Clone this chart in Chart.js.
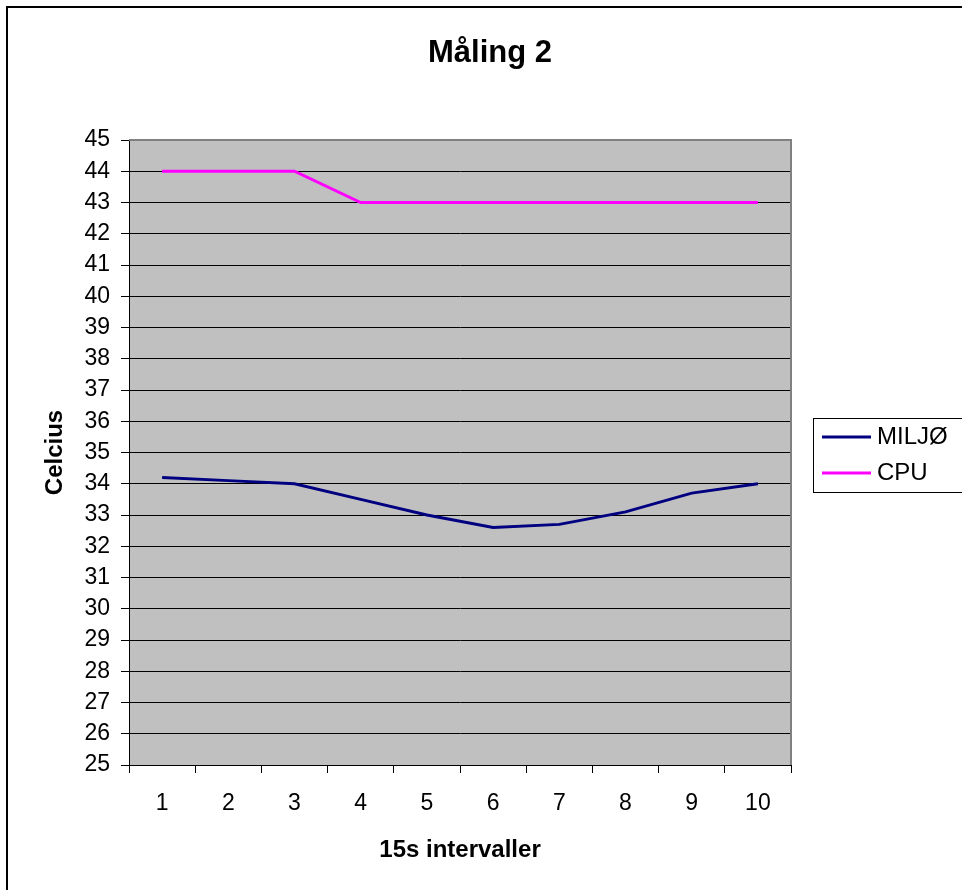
<!DOCTYPE html>
<html>
<head>
<meta charset="utf-8">
<script src="https://cdn.jsdelivr.net/npm/chart.js@4/dist/chart.umd.min.js"></script>
<style>
  body { margin: 0; background: #fff; }
  #wrap { width: 962px; height: 890px; position: relative; }
</style>
</head>
<body>
<div id="wrap"><canvas id="maalingChart"></canvas></div>
<script>
const intervals = ['1', '2', '3', '4', '5', '6', '7', '8', '9', '10'];
const miljoTemps = [34.2, 34.1, 34.0, 33.5, 33.0, 32.6, 32.7, 33.1, 33.7, 34.0];
const cpuTemps = [44, 44, 44, 43, 43, 43, 43, 43, 43, 43];
const seriesNames = ['MILJØ', 'CPU'];
const seriesColors = ['#000080', '#ff00ff'];

const fontFamily = '"Liberation Sans", Arial, sans-serif';

// grey plot area + frame round the whole chart
const plotBackground = {
  id: 'plotBackground',
  beforeDraw(chart) {
    const {ctx, chartArea: a} = chart;
    ctx.save();
    ctx.fillStyle = '#c0c0c0';
    ctx.fillRect(a.left, a.top, a.right - a.left, a.bottom - a.top);
    ctx.strokeStyle = '#000';
    ctx.lineWidth = 2;
    ctx.beginPath();
    ctx.moveTo(7, 890);
    ctx.lineTo(7, 7);
    ctx.lineTo(962, 7);
    ctx.stroke();
    ctx.restore();
  },
  beforeDatasetsDraw(chart) {
    const {ctx, chartArea: a} = chart;
    ctx.save();
    ctx.strokeStyle = '#808080';
    ctx.lineWidth = 2;
    ctx.beginPath();
    ctx.moveTo(a.left, a.top);
    ctx.lineTo(a.right, a.top);
    ctx.lineTo(a.right, a.bottom);
    ctx.stroke();
    ctx.restore();
  }
};

// Excel style legend box on the right
const boxLegend = {
  id: 'boxLegend',
  afterDraw(chart) {
    const {ctx} = chart;
    const sets = chart.data.datasets;
    ctx.save();
    ctx.strokeStyle = '#000';
    ctx.lineWidth = 1;
    ctx.strokeRect(813.5, 418.5, 160, 74);
    ctx.font = '24px ' + fontFamily;
    ctx.textBaseline = 'middle';
    ctx.fillStyle = '#000';
    sets.forEach((ds, i) => {
      const y = 437 + i * 36;
      ctx.strokeStyle = ds.borderColor;
      ctx.lineWidth = 3;
      ctx.beginPath();
      ctx.moveTo(822, y);
      ctx.lineTo(871, y);
      ctx.stroke();
      ctx.fillText(ds.label, 877, y);
    });
    ctx.restore();
  }
};

const ctx = document.getElementById('maalingChart').getContext('2d');
const chart = new Chart(ctx, {
  type: 'line',
  data: {
    labels: intervals,
    datasets: [
      { label: seriesNames[0], data: miljoTemps, borderColor: seriesColors[0], borderWidth: 3, pointRadius: 0, tension: 0, fill: false },
      { label: seriesNames[1], data: cpuTemps, borderColor: seriesColors[1], borderWidth: 3, pointRadius: 0, tension: 0, fill: false }
    ]
  },
  options: {
    responsive: true,
    maintainAspectRatio: false,
    animation: false,
    layout: { padding: { left: 18, right: 0, top: 0, bottom: 0 } },
    plugins: {
      legend: { display: false },
      tooltip: { enabled: false },
      title: {
        display: true,
        text: 'Måling 2',
        color: '#000',
        font: { family: fontFamily, size: 31, weight: 'bold' },
        padding: { top: 34.4, bottom: 68.4 }
      }
    },
    scales: {
      x: {
        offset: true,
        grid: { display: true, offset: true, drawOnChartArea: false, color: '#000', tickLength: 8 },
        border: { color: '#000', width: 1 },
        ticks: { color: '#000', font: { family: fontFamily, size: 23 }, padding: 17, maxRotation: 0 },
        title: {
          display: true,
          text: '15s intervaller',
          color: '#000',
          font: { family: fontFamily, size: 24, weight: 'bold' },
          padding: { top: 0, bottom: 25.6 }
        },
        afterFit(scale) { scale.height = 125; }
      },
      y: {
        min: 25,
        max: 45,
        grid: { color: '#000', tickLength: 8 },
        border: { color: '#000', width: 1 },
        ticks: { stepSize: 1, color: '#000', font: { family: fontFamily, size: 23 }, padding: 11 },
        title: {
          display: true,
          text: 'Celcius',
          color: '#000',
          font: { family: fontFamily, size: 24, weight: 'bold' },
          padding: { top: 22.6, bottom: 0 }
        },
        afterFit(scale) { scale.width = 111; }
      },
      // empty axis that keeps room for the legend box
      legendRoom: {
        position: 'right',
        grid: { display: false },
        border: { display: false },
        ticks: { display: false },
        afterFit(scale) { scale.width = 171; }
      }
    }
  },
  plugins: [plotBackground, boxLegend]
});
</script>
</body>
</html>
